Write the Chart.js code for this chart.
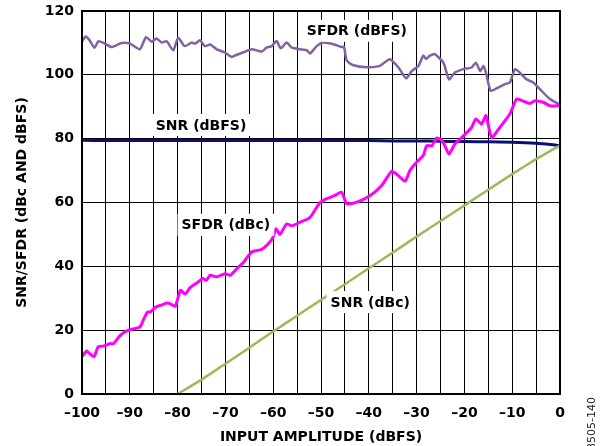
<!DOCTYPE html>
<html>
<head>
<meta charset="utf-8">
<script src="https://cdn.jsdelivr.net/npm/chart.js@4/dist/chart.umd.min.js"></script>
<style>
  html, body { margin: 0; padding: 0; background: #fff; }
  #wrap { position: relative; width: 600px; height: 446px; }
</style>
</head>
<body>
<div id="wrap">
  <canvas id="c" width="600" height="446"></canvas>
</div>
<script>
// ---- Data ----
const sfdrDbfsX = [-100,-99.2,-98.5,-97.4,-96.6,-95.5,-93.8,-91.7,-90,-87.9,-86.6,-85.4,-84.4,-83.3,-82.3,-80.9,-79.9,-78.5,-77.1,-76.3,-75.3,-74.3,-73.2,-71.8,-70.1,-68.7,-67.6,-66.3,-64.5,-62.4,-61.4,-60.3,-59.3,-58.4,-57.2,-56.1,-54.4,-53,-52.3,-50.9,-49.5,-47.4,-45.7,-45.2,-44.6,-43.2,-40.4,-37.7,-35.6,-33.8,-32.2,-31,-29.6,-28.6,-28,-27.2,-26.2,-24.4,-23.2,-22,-20.2,-18.5,-17.6,-16.7,-16,-15.5,-14.5,-13.2,-11.5,-10.5,-9.4,-8.4,-7,-5.6,-4.2,-2.1,0];
const sfdrDbfsY = [110.5,112,111,108.5,110.5,110,108.7,110,109.8,108,111.8,110.4,111.4,110.1,110.5,107.7,111.6,109,110.1,109.8,110.8,109,109.5,108,107,105.6,106.3,107,108,107.3,108.5,109,110.6,108.3,110.1,108.5,108,107.7,106.7,109,110.1,109.6,108.7,108.8,104.4,103,102.4,102.8,104.9,102.3,98.9,101.2,102.8,106,105,106,106.5,103.8,98.6,100.7,101.8,102.3,103.8,101.2,102.8,100.7,95,95.8,97.1,97.6,101.8,100.7,98.6,97.6,95.5,92.4,90.6];

const sfdrDbcX = [-100,-99,-98.6,-97.5,-96.6,-95.5,-94.1,-93.4,-92,-90.3,-87.9,-87.2,-86.3,-85.7,-84.5,-83.3,-82.3,-81.6,-80.5,-79.4,-78.4,-77.4,-75.7,-74.7,-74,-73.2,-71.8,-70.1,-69,-67.6,-66.2,-64.5,-62.4,-60.7,-60,-59.4,-58.6,-57.2,-56.1,-54.4,-52.7,-52,-50.2,-48.8,-47.1,-45.7,-44.6,-42.5,-39.7,-37.3,-35.2,-33.8,-32.4,-31.4,-30,-28.6,-27.9,-26.8,-25.8,-24.8,-24.1,-23.2,-22,-20.2,-18.5,-17.6,-16.4,-15.5,-14.3,-12.6,-10.5,-9.1,-8.1,-6.3,-5.2,-3.5,-2.1,0];
const sfdrDbcY = [11.7,13.5,12.9,11.7,14.8,15,15.8,15.8,18.4,20,21,23.1,25.7,25.7,27.3,27.9,28.5,28.3,27.5,32.5,31.3,33.3,35.1,36.2,35.6,37.2,36.7,37.7,37.2,39.3,41.3,44.5,45.3,47.6,49.2,51.8,50,53.3,52.7,53.8,54.9,55.9,60,61.2,62.2,63.2,59.6,60.1,62.2,65.3,69.8,68.4,66.7,70,72.6,74.7,77.8,77.8,80.2,79.6,77.8,75.2,78.3,80.9,83.5,86.2,84.6,87.2,80.4,83.5,87.7,92.4,92,91,91.9,91.4,90.3,90.3];

const snrDbfsX = [-100,-95,-90,-85,-80,-75,-70,-65,-60,-55,-50,-45,-40,-35,-30,-25,-20,-15,-10,-5,-2,0];
const snrDbfsY = [79.5,79.4,79.5,79.4,79.5,79.4,79.5,79.4,79.5,79.4,79.5,79.4,79.4,79.3,79.3,79.2,79.1,79.0,78.9,78.6,78.2,77.8];

const snrDbcX = [-80,-75,-70,-65,-60,-55,-50,-45,-40,-35,-30,-25,-20,-15,-10,-5,-2,0];
const snrDbcY = [0,4.5,9.5,14.5,19.6,24.5,29.5,34.4,39.4,44.3,49.3,54.2,59.1,64.0,68.9,73.6,76.2,77.8];

const xTickLabels = ['–100','–90','–80','–70','–60','–50','–40','–30','–20','–10','0'];
const yTickLabels = ['0','20','40','60','80','100','120'];

const seriesNames = ['SFDR (dBFS)','SNR (dBFS)','SFDR (dBc)','SNR (dBc)'];
const seriesColors = ['#8064A2','#0A0F78','#FF00FF','#9BBB59'];
// in-plot annotation labels: [text, x value, y value]
const annotations = [
  ['SFDR (dBFS)', -42.5, 113.8],
  ['SNR (dBFS)', -75.1, 84.3],
  ['SFDR (dBc)', -69.9, 53.0],
  ['SNR (dBc)', -39.7, 28.8]
];
const figureId = '08505-140';

const pts = (xs, ys) => xs.map((x, i) => ({ x: x, y: ys[i] }));
const FONT = '"DejaVu Sans", "Liberation Sans", Arial, sans-serif';

const labelPlugin = {
  id: 'annLabels',
  afterDatasetsDraw(chart) {
    const ctx = chart.ctx;
    const xs = chart.scales.x, ys = chart.scales.y;
    ctx.save();
    ctx.font = 'bold 14px ' + FONT;
    ctx.textAlign = 'center';
    ctx.textBaseline = 'middle';
    annotations.forEach(a => {
      const px = xs.getPixelForValue(a[1]);
      const py = ys.getPixelForValue(a[2]);
      const w = ctx.measureText(a[0]).width;
      ctx.fillStyle = '#fff';
      ctx.fillRect(px - w / 2 - 4, py - 11, w + 8, 22);
      ctx.fillStyle = '#000';
      ctx.fillText(a[0], px, py + 1);
    });
    ctx.restore();
  },
  afterDraw(chart) {
    const ctx = chart.ctx, ca = chart.chartArea;
    ctx.save();
    ctx.strokeStyle = '#000';
    ctx.lineWidth = 2;
    ctx.strokeRect(ca.left, ca.top, ca.right - ca.left, ca.bottom - ca.top);
    ctx.restore();
    ctx.save();
    ctx.translate(592, 397);
    ctx.rotate(-Math.PI / 2);
    ctx.font = '11px ' + FONT;
    ctx.fillStyle = '#222';
    ctx.textAlign = 'right';
    ctx.textBaseline = 'middle';
    ctx.fillText(figureId, 0, 0);
    ctx.restore();
  }
};

new Chart(document.getElementById('c'), {
  type: 'line',
  data: {
    datasets: [
      { label: seriesNames[0], data: pts(sfdrDbfsX, sfdrDbfsY), borderColor: seriesColors[0], borderWidth: 2.5, order: 4 },
      { label: seriesNames[1], data: pts(snrDbfsX, snrDbfsY), borderColor: seriesColors[1], borderWidth: 3, order: 3 },
      { label: seriesNames[2], data: pts(sfdrDbcX, sfdrDbcY), borderColor: seriesColors[2], borderWidth: 3, order: 1 },
      { label: seriesNames[3], data: pts(snrDbcX, snrDbcY), borderColor: seriesColors[3], borderWidth: 2.5, order: 2 }
    ]
  },
  options: {
    responsive: false,
    animation: false,
    devicePixelRatio: 1,
    layout: { padding: { top: 11, right: 40, left: 0, bottom: 0 } },
    elements: { point: { radius: 0 }, line: { tension: 0.2, fill: false, borderCapStyle: 'round', borderJoinStyle: 'round' } },
    plugins: { legend: { display: false }, tooltip: { enabled: false } },
    scales: {
      x: {
        type: 'linear', min: -100, max: 0,
        afterFit(s) { s.height = 52; },
        ticks: {
          stepSize: 5, autoSkip: false, maxRotation: 0, padding: 11,
          color: '#000', font: { family: FONT, weight: 'bold', size: 14 },
          callback: (v) => { const i = xTickLabels.indexOf(v < 0 ? '–' + Math.abs(v) : String(v)); return i >= 0 ? xTickLabels[i] : ''; }
        },
        grid: { color: '#000', lineWidth: 1, drawTicks: false },
        border: { display: false },
        title: { display: true, text: 'INPUT AMPLITUDE (dBFS)', color: '#000', font: { family: FONT, weight: 'bold', size: 14 }, padding: { top: 4, bottom: 0 } }
      },
      y: {
        type: 'linear', min: 0, max: 120,
        afterFit(s) { s.width = 82; },
        ticks: {
          stepSize: 20, padding: 8, color: '#000', font: { family: FONT, weight: 'bold', size: 14, lineHeight: 0.4 },
          callback: (v) => { const i = yTickLabels.indexOf(String(v)); return i >= 0 ? yTickLabels[i] : ''; }
        },
        grid: { color: '#000', lineWidth: 1, drawTicks: false },
        border: { display: false },
        title: { display: true, text: 'SNR/SFDR (dBc AND dBFS)', color: '#000', font: { family: FONT, weight: 'bold', size: 14 }, padding: { top: 14, bottom: 0 } }
      }
    }
  },
  plugins: [labelPlugin]
});
</script>
</body>
</html>
